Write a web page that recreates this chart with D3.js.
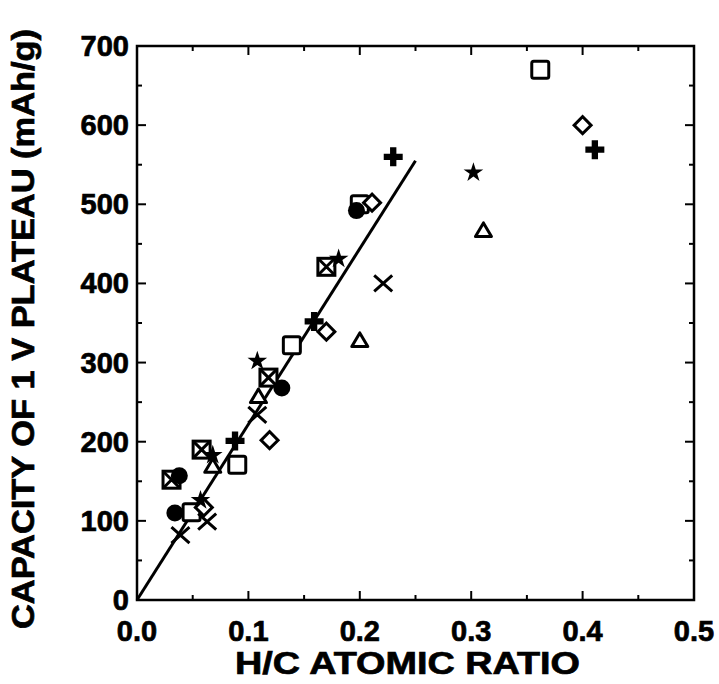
<!DOCTYPE html>
<meta charset="utf-8">
<script src="https://d3js.org/d3.v7.min.js"></script>
<style>
  body { margin: 0; background: #fff; }
  text { font-family: "Liberation Sans", Arial, sans-serif; font-weight: bold; fill: #000; stroke: #000; stroke-width: 0.7px; }
</style>
<div id="my_dataviz"></div>
<script>

// data, one array per marker type
var squares   = [[0.362, 670], [0.200, 500], [0.139, 322], [0.090, 171], [0.049, 111]];
var boxedX    = [[0.031, 152], [0.058, 190], [0.170, 421], [0.118, 281]];
var circles   = [[0.197, 492], [0.130, 268], [0.038, 157], [0.034, 110]];
var diamonds  = [[0.400, 600], [0.211, 502], [0.170, 339], [0.119, 202], [0.060, 117]];
var pluses    = [[0.411, 569], [0.230, 560], [0.159, 352], [0.088, 201]];
var stars     = [[0.302, 540], [0.181, 431], [0.108, 302], [0.068, 183], [0.057, 126]];
var triangles = [[0.311, 467], [0.200, 328], [0.109, 257], [0.068, 169]];
var crosses   = [[0.221, 400], [0.108, 234], [0.063, 99], [0.039, 82]];

var fitLine = [[0, 0], [0.25, 555]];

var xTicks = [0, 0.1, 0.2, 0.3, 0.4, 0.5];
var yTicks = [0, 100, 200, 300, 400, 500, 600, 700];

var margin = {top: 46, right: 25, bottom: 84, left: 137},
    width = 694 - margin.left,
    height = 600 - margin.top;

var svg = d3.select("#my_dataviz")
  .append("svg")
    .attr("width", 719)
    .attr("height", 684)
  .append("g")
    .attr("transform", "translate(" + margin.left + "," + margin.top + ")");

var x = d3.scaleLinear().domain([0, 0.5]).range([0, width]);
var y = d3.scaleLinear().domain([0, 700]).range([height, 0]);

// frame
svg.append("rect")
  .attr("width", width).attr("height", height)
  .attr("fill", "none").attr("stroke", "#000").attr("stroke-width", 2.5);

// inward ticks on all four sides
var xMinor = d3.range(0.05, 0.5, 0.1);
var yMinor = d3.range(50, 700, 100);
function tickLines(vals, len, horizontal) {
  vals.forEach(function(v) {
    if (horizontal) {
      svg.append("line").attr("x1", x(v)).attr("x2", x(v)).attr("y1", height).attr("y2", height - len);
      svg.append("line").attr("x1", x(v)).attr("x2", x(v)).attr("y1", 0).attr("y2", len);
    } else {
      svg.append("line").attr("y1", y(v)).attr("y2", y(v)).attr("x1", 0).attr("x2", len);
      svg.append("line").attr("y1", y(v)).attr("y2", y(v)).attr("x1", width).attr("x2", width - len);
    }
  });
}
tickLines(xTicks.slice(1, -1), 9, true);
tickLines(xMinor, 5, true);
tickLines(yTicks.slice(1, -1), 9, false);
tickLines(yMinor, 5, false);
svg.selectAll("line").attr("stroke", "#000").attr("stroke-width", 2);

// tick labels
svg.selectAll(".xl").data(xTicks).enter().append("text")
  .attr("x", function(d) { return x(d); })
  .attr("y", height + 41)
  .attr("text-anchor", "middle")
  .style("font-size", "29px")
  .text(function(d) { return d.toFixed(1); });

svg.selectAll(".yl").data(yTicks).enter().append("text")
  .attr("x", -8)
  .attr("y", function(d) { return y(d) + 10; })
  .attr("text-anchor", "end")
  .style("font-size", "29px")
  .text(function(d) { return d; });

// axis titles
svg.append("text")
  .attr("x", width / 2 - 8)
  .attr("y", height + 74)
  .attr("text-anchor", "middle")
  .style("font-size", "31px")
  .attr("textLength", 345)
  .attr("lengthAdjust", "spacingAndGlyphs")
  .text("H/C ATOMIC RATIO");

svg.append("text")
  .attr("transform", "translate(-103," + (height / 2 + 6) + ") rotate(-90)")
  .attr("text-anchor", "middle")
  .style("font-size", "31px")
  .attr("textLength", 600)
  .attr("lengthAdjust", "spacingAndGlyphs")
  .text("CAPACITY OF 1 V PLATEAU (mAh/g)");

// fit line
svg.append("line")
  .attr("x1", x(fitLine[0][0])).attr("y1", y(fitLine[0][1]))
  .attr("x2", x(fitLine[1][0])).attr("y2", y(fitLine[1][1]))
  .attr("stroke", "#000").attr("stroke-width", 3);

// markers
var sw = 3;
function place(data, draw) {
  data.forEach(function(d) {
    var g = svg.append("g").attr("transform", "translate(" + x(d[0]) + "," + y(d[1]) + ")");
    draw(g);
  });
}

place(squares, function(g) {
  g.append("rect").attr("x", -8.5).attr("y", -8.5).attr("width", 17).attr("height", 17).attr("rx", 2)
    .attr("fill", "#fff").attr("stroke", "#000").attr("stroke-width", sw);
});
place(boxedX, function(g) {
  g.append("rect").attr("x", -8.5).attr("y", -8.5).attr("width", 17).attr("height", 17)
    .attr("fill", "#fff").attr("stroke", "#000").attr("stroke-width", sw);
  g.append("path").attr("d", "M-8,-8L8,8M8,-8L-8,8").attr("stroke", "#000").attr("stroke-width", sw);
});
place(circles, function(g) {
  g.append("circle").attr("r", 8.5).attr("fill", "#000");
});
place(diamonds, function(g) {
  g.append("rect").attr("x", -6).attr("y", -6).attr("width", 12).attr("height", 12)
    .attr("transform", "rotate(45)")
    .attr("fill", "#fff").attr("stroke", "#000").attr("stroke-width", sw);
});
place(pluses, function(g) {
  g.append("path").attr("d", d3.symbol().type(d3.symbolCross).size(200)()).attr("fill", "#000");
});
place(stars, function(g) {
  g.append("path").attr("d", d3.symbol().type(d3.symbolStar).size(120)()).attr("fill", "#000");
});
place(triangles, function(g) {
  g.append("path").attr("d", "M0,-7.5L8,6L-8,6Z")
    .attr("fill", "#fff").attr("stroke", "#000").attr("stroke-width", sw).attr("stroke-linejoin", "round");
});
place(crosses, function(g) {
  g.append("path").attr("d", "M-9,-8L9,8M9,-8L-9,8").attr("stroke", "#000").attr("stroke-width", sw);
});

</script>
